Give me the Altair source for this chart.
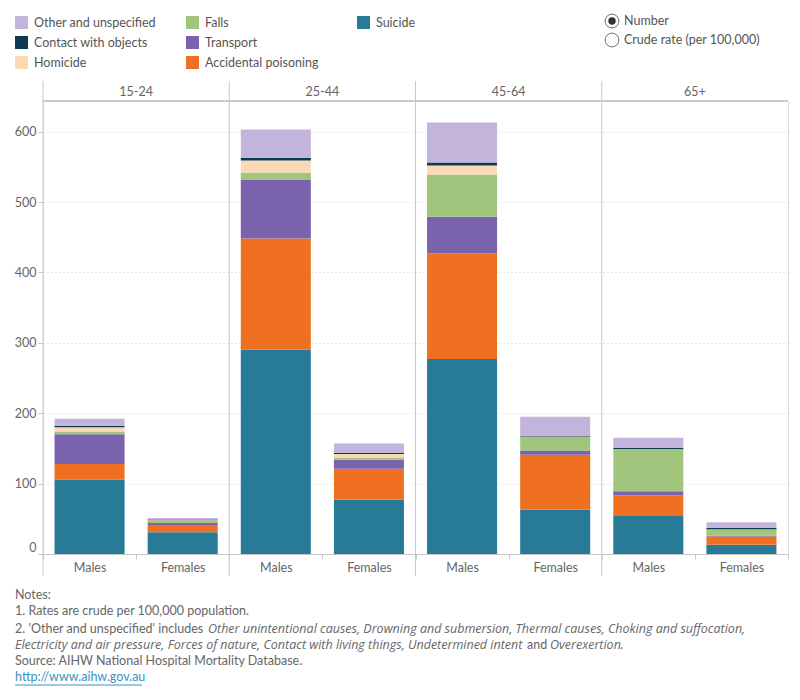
import altair as alt
import pandas as pd

FONT = "Lato"
ITFONT = "Open Sans"

ages = ["15-24", "25-44", "45-64", "65+"]
sexes = ["Males", "Females"]

# causes from bottom of stack to top
causes = ["Suicide", "Accidental poisoning", "Transport", "Falls", "Homicide",
          "Contact with objects", "Other and unspecified"]

# values in order: 15-24 M, 15-24 F, 25-44 M, 25-44 F, 45-64 M, 45-64 F, 65+ M, 65+ F
suicide = [106, 31, 290, 77, 277, 63, 55, 13]
accidental_poisoning = [22, 9, 158, 44, 150, 78, 28, 12]
transport = [42, 4, 84, 13, 52, 6, 6, 1]
falls = [4, 3, 10, 3, 60, 20, 60, 9]
homicide = [6, 1, 17, 5, 13, 0, 0, 0]
contact_with_objects = [2, 1, 4, 2, 4, 1, 2, 2]
other_unspecified = [10, 2, 40, 13, 57, 27, 14, 8]

series = [suicide, accidental_poisoning, transport, falls, homicide,
          contact_with_objects, other_unspecified]

# legend order (filled column by column, 3 rows); last slot is an empty filler
legend_domain = ["Other and unspecified", "Contact with objects", "Homicide",
                 "Falls", "Transport", "Accidental poisoning", "Suicide", " "]
legend_colors = ["#C3B4DB", "#0C3A50", "#FDD8B4",
                 "#A2C57E", "#7A62AD", "#F07021", "#287B96", "transparent"]

y_ticks = [0, 100, 200, 300, 400, 500, 600]

keys = [f"{a}|{s}" for a in ages for s in sexes]
rows = []
for ci, (cause, vals) in enumerate(zip(causes, series)):
    for k, v in zip(keys, vals):
        rows.append({"key": k, "cause": cause, "value": v, "ord": ci})
df = pd.DataFrame(rows)

panel_df = pd.DataFrame({"age": ages, "key": [f"{a}|Males" for a in ages]})

GRID = "#cfcfcf"
LINE = "#c8c8c8"
TXT = "#666666"


def xenc(band=None):
    kw = {}
    if band is not None:
        kw["bandPosition"] = band
    return alt.X(
        "key:N",
        scale=alt.Scale(domain=keys, paddingInner=0, paddingOuter=0),
        axis=alt.Axis(title=None, labelAngle=0,
                      labelExpr="split(datum.label, '|')[1]",
                      tickBand="extent", tickSize=5, tickColor=LINE,
                      domainColor=LINE, labelColor=TXT, labelFontSize=12.5,
                      labelPadding=2, labelFont=FONT),
        **kw,
    )


bars = alt.Chart(df).mark_bar(width=alt.RelativeBandSize(0.752)).encode(
    x=xenc(),
    y=alt.Y("value:Q", stack="zero",
            scale=alt.Scale(domain=[0, 643.5], nice=False),
            axis=alt.Axis(title=None, values=y_ticks, grid=True,
                          gridColor=GRID, gridDash=[1, 3], domain=False,
                          tickSize=5, tickColor=LINE, labelColor=TXT,
                          labelFontSize=12.5, labelPadding=2,
                          labelFlush=True, labelFont=FONT)),
    color=alt.Color("cause:N",
                    scale=alt.Scale(domain=legend_domain, range=legend_colors),
                    legend=alt.Legend(title=None, orient="none",
                                      legendX=-28, legendY=-85,
                                      columns=3, gridAlign="all",
                                      columnPadding=30, rowPadding=7,
                                      symbolType="square", symbolSize=169,
                                      symbolStrokeWidth=0, labelOffset=6,
                                      labelFontSize=12.5, labelColor="#555555",
                                      labelFont=FONT, labelLimit=200)),
    order=alt.Order("ord:Q", sort="ascending"),
)

headers = alt.Chart(panel_df).mark_text(
    font=FONT, fontSize=12.5, color=TXT, baseline="middle", align="center"
).encode(x=xenc(band=1), y=alt.value(-9), text="age:N")

seps = alt.Chart(panel_df).mark_rule(color=LINE, strokeWidth=1).encode(
    x=xenc(band=0), y=alt.value(-20), y2=alt.value(475))

top_line = alt.Chart(panel_df).mark_rule(color=LINE, strokeWidth=1).encode(
    x=alt.value(0), x2=alt.value(745), y=alt.value(0))

one = pd.DataFrame({"a": [0]})

radio_outer1 = alt.Chart(one).mark_point(
    shape="circle", size=190, filled=False, color="#333333", strokeWidth=1
).encode(x=alt.value(569), y=alt.value(-80))
radio_dot = alt.Chart(one).mark_point(
    shape="circle", size=55, filled=True, color="#333333", opacity=1
).encode(x=alt.value(569), y=alt.value(-80))
radio_outer2 = alt.Chart(one).mark_point(
    shape="circle", size=190, filled=False, color="#333333", strokeWidth=1
).encode(x=alt.value(569), y=alt.value(-61))


def txt(s, x, y, color=TXT, italic=False, size=12.5):
    return alt.Chart(one).mark_text(
        text=s, font=ITFONT if italic else FONT,
        fontSize=12.5 if italic else size, color=color,
        align="left", baseline="middle",
        fontStyle="italic" if italic else "normal"
    ).encode(x=alt.value(x), y=alt.value(y))


radio_t1 = txt("Number", 581, -80, color="#555555")
radio_t2 = txt("Crude rate (per 100,000)", 581, -61, color="#555555")

notes = [
    txt("Notes:", -28, 494),
    txt("1. Rates are crude per 100,000 population.", -28, 510),
    txt("2. 'Other and unspecified' includes ", -28, 528),
    txt("Other unintentional causes, Drowning and submersion, Thermal causes, Choking and suffocation,",
        165, 528, italic=True),
    txt("Electricity and air pressure, Forces of nature, Contact with living things, Undetermined intent",
        -28, 544, italic=True),
    txt("and", 484, 544),
    txt("Overexertion", 507, 544, italic=True),
    txt(".", 577, 544),
    txt("Source: AIHW National Hospital Mortality Database.", -28, 560),
    txt("http://www.aihw.gov.au", -28, 576, color="#3D8FC0"),
]
underline = alt.Chart(one).mark_rule(color="#3D8FC0", strokeWidth=1).encode(
    x=alt.value(-28), x2=alt.value(99), y=alt.value(584))

chart = alt.layer(
    bars, seps, top_line, headers,
    radio_outer1, radio_dot, radio_outer2, radio_t1, radio_t2,
    *notes, underline
).properties(
    width=745, height=453,
    padding={"left": 43, "top": 101, "right": 12, "bottom": 146},
    autosize=alt.AutoSizeParams(type="none"),
).configure_view(stroke=None).configure(font=FONT)

chart.save("out.html", embed_options={"renderer": "svg", "actions": False})
